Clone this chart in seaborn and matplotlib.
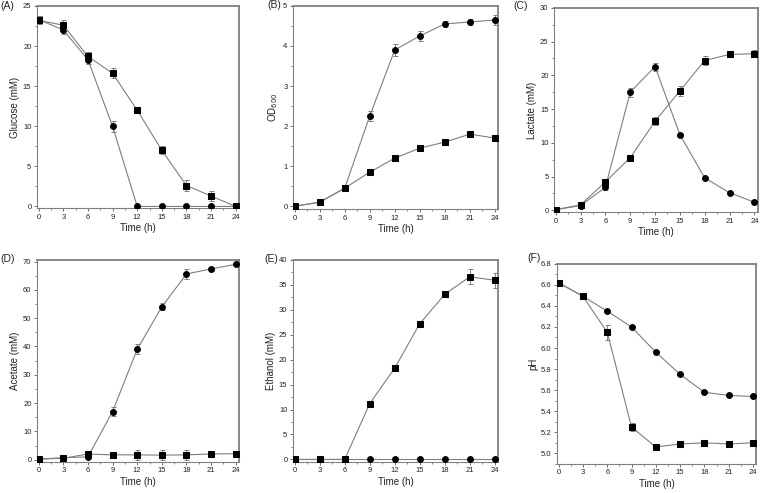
import numpy as np
import pandas as pd
import matplotlib
matplotlib.use("Agg")
import matplotlib.pyplot as plt
from matplotlib.ticker import MultipleLocator
import seaborn as sns

sns.set_style("ticks")
plt.rcParams['font.family'] = ['Liberation Sans', 'DejaVu Sans']

time_h = [0, 3, 6, 9, 12, 15, 18, 21, 24]

glucose_circle = [23.3, 22.0, 18.3, 10.0, 0.0, 0.0, 0.0, 0.0, 0.0]
glucose_circle_err = [0.5, 0.5, 0.6, 0.7, 0.1, 0.05, 0.05, 0.05, 0.05]
glucose_square = [23.2, 22.6, 18.7, 16.6, 12.0, 7.0, 2.6, 1.3, 0.0]
glucose_square_err = [0.5, 0.6, 0.6, 0.6, 0.4, 0.5, 0.7, 0.6, 0.1]

od_circle = [0.0, 0.1, 0.45, 2.25, 3.9, 4.25, 4.55, 4.6, 4.65]
od_circle_err = [0.02, 0.05, 0.05, 0.12, 0.15, 0.13, 0.08, 0.08, 0.12]
od_square = [0.0, 0.1, 0.45, 0.85, 1.2, 1.45, 1.6, 1.8, 1.7]
od_square_err = [0.02, 0.03, 0.03, 0.03, 0.03, 0.03, 0.03, 0.03, 0.03]

lactate_circle = [0.1, 0.7, 3.4, 17.5, 21.3, 11.2, 4.8, 2.6, 1.2]
lactate_circle_err = [0.05, 0.2, 0.4, 0.7, 0.6, 0.3, 0.2, 0.1, 0.1]
lactate_square = [0.1, 0.8, 4.2, 7.8, 13.2, 17.7, 22.2, 23.1, 23.2]
lactate_square_err = [0.05, 0.2, 0.5, 0.3, 0.6, 0.7, 0.7, 0.3, 0.5]

acetate_circle = [0.2, 0.7, 1.0, 17.0, 39.0, 54.0, 65.6, 67.4, 69.0]
acetate_circle_err = [0.1, 0.3, 0.5, 1.6, 1.8, 1.2, 1.8, 0.6, 0.6]
acetate_square = [0.2, 0.5, 2.0, 1.7, 1.7, 1.6, 1.7, 2.0, 2.1]
acetate_square_err = [0.1, 0.2, 0.5, 0.3, 1.8, 1.8, 1.8, 0.3, 0.3]

ethanol_circle = [0.0, 0.0, 0.0, 0.0, 0.0, 0.0, 0.0, 0.0, 0.0]
ethanol_circle_err = [0.05] * 9
ethanol_square = [0.0, 0.0, 0.0, 11.2, 18.3, 27.2, 33.1, 36.6, 35.9]
ethanol_square_err = [0.05, 0.05, 0.05, 0.3, 0.3, 0.3, 0.3, 1.5, 1.5]

ph_circle = [6.62, 6.49, 6.35, 6.20, 5.96, 5.75, 5.58, 5.55, 5.54]
ph_circle_err = [0.01, 0.01, 0.01, 0.01, 0.01, 0.01, 0.01, 0.01, 0.01]
ph_square = [6.62, 6.49, 6.15, 5.25, 5.06, 5.09, 5.10, 5.09, 5.10]
ph_square_err = [0.01, 0.01, 0.07, 0.04, 0.01, 0.01, 0.01, 0.01, 0.01]

ylabels = ["Glucose (mM)", "OD$_{600}$", "Lactate (mM)",
           "Acetate (mM)", "Ethanol (mM)", "pH"]
panel_tags = ["(A)", "(B)", "(C)", "(D)", "(E)", "(F)"]

panels = [
    (glucose_circle, glucose_circle_err, glucose_square, glucose_square_err),
    (od_circle, od_circle_err, od_square, od_square_err),
    (lactate_circle, lactate_circle_err, lactate_square, lactate_square_err),
    (acetate_circle, acetate_circle_err, acetate_square, acetate_square_err),
    (ethanol_circle, ethanol_circle_err, ethanol_square, ethanol_square_err),
    (ph_circle, ph_circle_err, ph_square, ph_square_err),
]

W, H = 760, 493
# layout (figure fractions)
rects = [
    [0.0487, 0.578, 0.2658, 0.410],
    [0.3855, 0.576, 0.2700, 0.412],
    [0.7290, 0.570, 0.2680, 0.414],
    [0.0487, 0.063, 0.2658, 0.410],
    [0.3855, 0.063, 0.2700, 0.410],
    [0.7330, 0.059, 0.2620, 0.406],
]
ylims = [(-0.2, 25), (-0.07, 5), (-0.25, 30), (-0.8, 70.6), (-0.5, 40), (4.9, 6.8)]
ymajor = [5, 1, 5, 10, 5, 0.2]
yfmt = [None, None, None, None, None, "%.1f"]
# (x pixel, y pixel, ha)
tag_pos = [(0, 6, "left"), (281, 5, "right"), (528, 6, "right"),
           (0, 259, "left"), (278, 259, "right"), (541, 258, "right")]

line_gray = "#7f7f7f"
fig = plt.figure(figsize=(7.6, 4.93), dpi=100)

for i, (c, ce, s, se) in enumerate(panels):
    ax = fig.add_axes(rects[i])
    df = pd.DataFrame({"t": time_h * 2, "v": list(c) + list(s),
                       "kind": ["circle"] * 9 + ["square"] * 9})
    ax.errorbar(time_h, c, yerr=ce, fmt="none", ecolor=line_gray, elinewidth=0.7,
                capsize=1.8, capthick=0.7, zorder=2)
    ax.errorbar(time_h, s, yerr=se, fmt="none", ecolor=line_gray, elinewidth=0.7,
                capsize=1.8, capthick=0.7, zorder=2)
    sns.lineplot(data=df, x="t", y="v", hue="kind", style="kind",
                 markers={"circle": "o", "square": "s"}, dashes=False,
                 palette={"circle": line_gray, "square": line_gray},
                 linewidth=0.8, markersize=4.2, markerfacecolor="black",
                 markeredgecolor="black", legend=False, ax=ax, zorder=3)
    ax.set_xlim(-0.2, 24.4)
    ax.set_ylim(*ylims[i])
    ax.xaxis.set_major_locator(MultipleLocator(3))
    ax.xaxis.set_minor_locator(MultipleLocator(1.5))
    ax.yaxis.set_major_locator(MultipleLocator(ymajor[i]))
    ax.yaxis.set_minor_locator(MultipleLocator(ymajor[i] / 2))
    if yfmt[i]:
        ax.yaxis.set_major_formatter(matplotlib.ticker.FormatStrFormatter(yfmt[i]))
    ax.tick_params(axis="both", which="major", direction="out", length=2.5,
                   width=0.6, color="#555555", labelsize=5.5, pad=1.5,
                   labelcolor="#222222")
    ax.tick_params(axis="both", which="minor", direction="out", length=1.5,
                   width=0.5, color="#555555")
    for side, sp in ax.spines.items():
        sp.set_visible(True)
        sp.set_color("#808080")
        sp.set_linewidth(0.8 if side in ("left", "bottom") else 1.3)
    ax.set_xlabel("Time (h)", fontsize=7, labelpad=1.5, color="#222222")
    ax.set_ylabel(ylabels[i], fontsize=7, labelpad=2, color="#222222")
    px, py, ha = tag_pos[i]
    fig.text(px / W, 1 - py / H, panel_tags[i], fontsize=7.5,
             ha=ha, va="center", color="#222222")

fig.savefig("out.png", dpi=100)
